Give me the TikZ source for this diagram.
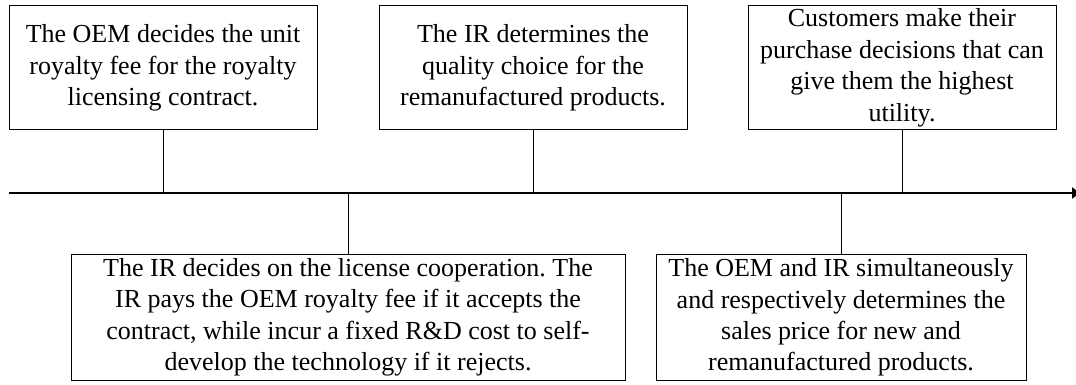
\documentclass[tikz,border=0pt]{standalone}
\usepackage{fontspec}
\setmainfont{Liberation Serif}
\usetikzlibrary{arrows.meta}
\frenchspacing

\begin{document}
\begin{tikzpicture}[
  stage/.style={draw, line width=0.7pt, align=center, inner sep=0pt,
    font=\fontsize{18.5}{22.4}\selectfont},
  stem/.style={line width=0.7pt}]
\useasboundingbox (0,0) rectangle (26.9,9.625);

% time axis
\coordinate (t0) at (0.225,4.8);
\coordinate (t1) at (27.05,4.8);
\draw[line width=0.9pt, -{Latex[length=0.25cm,width=0.3cm]}] (t0) -- (t1);

% stages above the axis
\node[stage, minimum width=7.7cm, minimum height=3.1cm] (oem) at (4.075,7.925)
  {The OEM decides the unit\\royalty fee for the royalty\\licensing contract.};
\node[stage, minimum width=7.7cm, minimum height=3.1cm] (quality) at (13.325,7.925)
  {The IR determines the\\quality choice for the\\remanufactured products.};
\node[stage, minimum width=7.7cm, minimum height=3.1cm] (buy) at (22.55,7.925)
  {Customers make their\\purchase decisions that can\\give them the highest\\utility.};

% stages below the axis
\node[stage, minimum width=13.85cm, minimum height=3.125cm] (license) at (8.7,1.6875)
  {The IR decides on the license cooperation. The\\IR pays the OEM royalty fee if it accepts the\\contract, while incur a fixed R\&D cost to self-\\develop the technology if it rejects.};
\node[stage, minimum width=9.25cm, minimum height=3.125cm] (price) at (21.025,1.6875)
  {The OEM and IR simultaneously\\and respectively determines the\\sales price for new and\\remanufactured products.};

% ticks to the axis
\foreach \n in {oem,quality,buy}
  \draw[stem] (\n.south) -- (\n.south |- t0);
\foreach \n in {license,price}
  \draw[stem] (\n.north) -- (\n.north |- t0);
\end{tikzpicture}
\end{document}
